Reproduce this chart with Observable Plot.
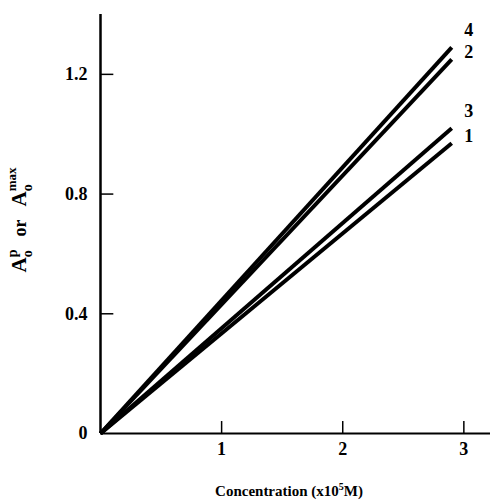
<!DOCTYPE html>
<html>
<head>
<meta charset="utf-8">
<script src="https://cdn.jsdelivr.net/npm/d3@7"></script>
<script src="https://cdn.jsdelivr.net/npm/@observablehq/plot@0.6"></script>
<style>
  html, body { margin: 0; padding: 0; background: #fff; }
  #chart { width: 491px; height: 500px; }
</style>
</head>
<body>
<div id="chart"></div>
<script>
// Data
const seriesNames = ["1", "2", "3", "4"];
const concentration = [0, 2.9];          // x10^5 M
const absorbance1 = [0, 0.97];
const absorbance2 = [0, 1.25];
const absorbance3 = [0, 1.02];
const absorbance4 = [0, 1.29];
const xTicks = [1, 2, 3];
const yTicks = [0, 0.4, 0.8, 1.2];
const xDomain = [0, 3.22];
const yDomain = [0, 1.4];

const seriesValues = [absorbance1, absorbance2, absorbance3, absorbance4];
const rows = seriesNames.flatMap((name, i) =>
  concentration.map((c, j) => ({series: name, x: c, y: seriesValues[i][j]}))
);
const lastPoints = seriesNames.map((name, i) => ({
  series: name,
  x: concentration[concentration.length - 1],
  y: seriesValues[i][seriesValues[i].length - 1]
}));
const upperLabels = lastPoints.filter(d => d.series === "4" || d.series === "3");
const lowerLabels = lastPoints.filter(d => d.series === "2" || d.series === "1");

const serif = "'Liberation Serif', 'DejaVu Serif', serif";
const fmt = d => String(d);

const plot = Plot.plot({
  width: 491,
  height: 500,
  marginLeft: 100,
  marginRight: 1,
  marginTop: 14,
  marginBottom: 67,
  style: {fontFamily: serif, fontSize: "18px", fontWeight: "bold", background: "#fff", color: "#000"},
  x: {domain: xDomain},
  y: {domain: yDomain},
  marks: [
    Plot.axisX(xTicks, {tickSize: 0, tickPadding: 9, label: null, fontSize: 18, tickFormat: fmt}),
    Plot.axisY(yTicks, {tickSize: 0, tickPadding: 13, label: null, fontSize: 18, tickFormat: fmt}),
    Plot.ruleX(xTicks, {y1: 0, y2: 0.04, stroke: "#000", strokeWidth: 1.5}),
    Plot.ruleY(yTicks.filter(v => v > 0), {x1: 0, x2: 0.11, stroke: "#000", strokeWidth: 1.5}),
    Plot.ruleX([0], {y1: 0, y2: yDomain[1], stroke: "#000", strokeWidth: 2.5}),
    Plot.ruleY([0], {x1: 0, x2: xDomain[1], stroke: "#000", strokeWidth: 2}),
    Plot.line(rows, {x: "x", y: "y", z: "series", stroke: "#000", strokeWidth: 4, strokeLinecap: "butt"}),
    Plot.text(upperLabels, {x: "x", y: "y", text: "series", dx: 17, dy: -17, fontSize: 18, fontWeight: "bold", fill: "#000"}),
    Plot.text(lowerLabels, {x: "x", y: "y", text: "series", dx: 17, dy: -7, fontSize: 18, fontWeight: "bold", fill: "#000"})
  ]
});

const svg = d3.select(plot);

// Y-axis title: A_o^p or A_o^max
const yt = svg.append("text")
  .attr("transform", "translate(26,220) rotate(-90)")
  .attr("text-anchor", "middle")
  .attr("font-family", serif)
  .attr("font-weight", "bold")
  .attr("font-size", 21)
  .attr("fill", "#000");
yt.append("tspan").text("A");
yt.append("tspan").attr("font-size", 14).attr("dy", 6).text("o");
yt.append("tspan").attr("font-size", 14).attr("dx", -7).attr("dy", -15).text("p");
yt.append("tspan").attr("font-size", 18).attr("dy", 9).attr("dx", 13).text("or");
yt.append("tspan").attr("dx", 13).text("A");
yt.append("tspan").attr("font-size", 14).attr("dy", 6).text("o");
yt.append("tspan").attr("font-size", 13).attr("dx", -7).attr("dy", -16).text("max");

// X-axis title: Concentration (x10^5 M)
const xt = svg.append("text")
  .attr("x", 289)
  .attr("y", 496)
  .attr("text-anchor", "middle")
  .attr("font-family", serif)
  .attr("font-weight", "bold")
  .attr("font-size", 15)
  .attr("fill", "#000");
xt.append("tspan").text("Concentration (x10");
xt.append("tspan").attr("font-size", 10).attr("dy", -6).text("5");
xt.append("tspan").attr("dy", 6).text("M)");

document.getElementById("chart").appendChild(plot);
</script>
</body>
</html>
